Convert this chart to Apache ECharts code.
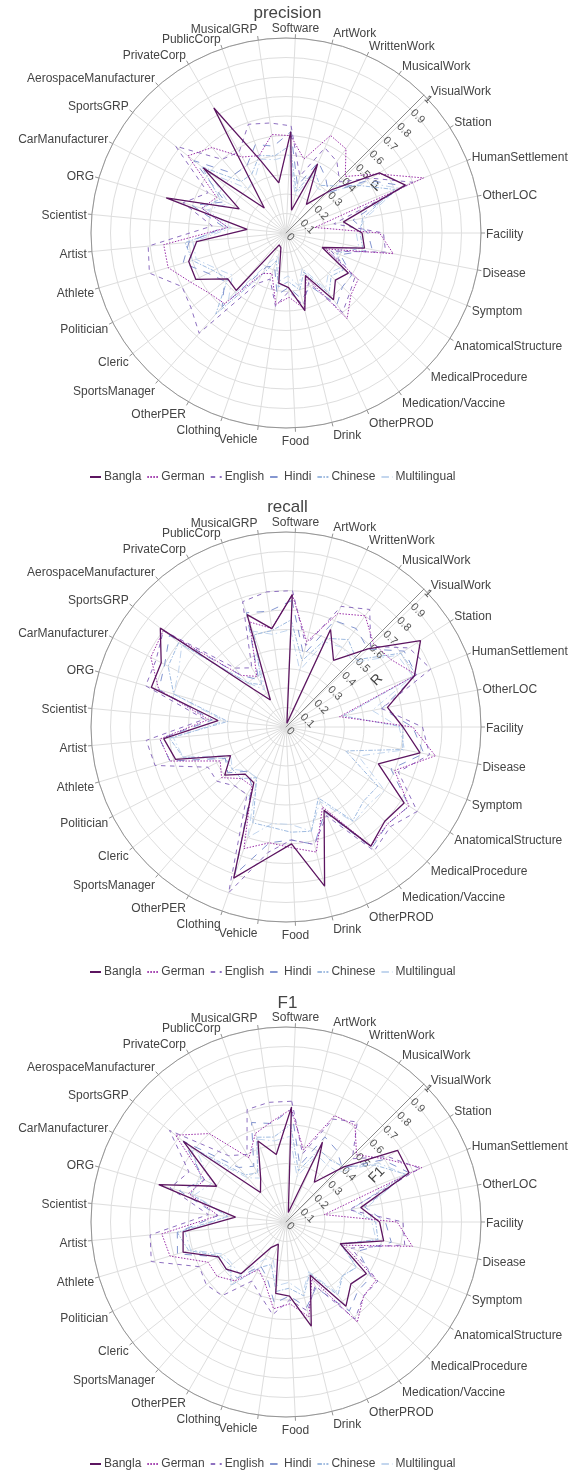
<!DOCTYPE html>
<html><head><meta charset="utf-8">
<script src="https://cdn.jsdelivr.net/npm/echarts@6/dist/echarts.min.js"></script>
<style>html,body{margin:0;padding:0;background:#fff}#c{width:575px;height:1473px}</style>
</head><body><div id="c"></div>
<script>
const categories = ['Software','ArtWork','WrittenWork','MusicalWork','VisualWork','Station','HumanSettlement','OtherLOC','Facility','Disease','Symptom','AnatomicalStructure','MedicalProcedure','Medication/Vaccine','OtherPROD','Drink','Food','Vehicle','Clothing','OtherPER','SportsManager','Cleric','Politician','Athlete','Artist','Scientist','ORG','CarManufacturer','SportsGRP','AerospaceManufacturer','PrivateCorp','PublicCorp','MusicalGRP'];
const languages = ['Bangla','German','English','Hindi','Chinese','Multilingual'];
const radialTicks = ['0','0.1','0.2','0.3','0.4','0.5','0.6','0.7','0.8','0.9','1'];
const chartTitles = ['precision','recall','F1'];
const axisTitles = ['P','R','F1'];

// precision
const pBangla  = [0.52,0.12,0.39,0.18,0.32,0.57,0.66,0.30,0.39,0.41,0.20,0.38,0.35,0.42,0.24,0.41,0.28,0.26,0.08,0.07,0.39,0.38,0.52,0.52,0.46,0.20,0.64,0.27,0.54,0.17,0.74,0.39,0.26];
const pGerman  = [0.50,0.39,0.55,0.53,0.42,0.56,0.76,0.15,0.48,0.56,0.22,0.44,0.46,0.54,0.25,0.40,0.33,0.37,0.22,0.24,0.48,0.50,0.55,0.63,0.63,0.30,0.45,0.40,0.64,0.58,0.45,0.42,0.51];
const pEnglish = [0.55,0.30,0.48,0.45,0.38,0.52,0.70,0.25,0.50,0.52,0.25,0.42,0.45,0.50,0.28,0.38,0.30,0.38,0.25,0.30,0.68,0.62,0.60,0.73,0.71,0.38,0.55,0.45,0.72,0.50,0.48,0.59,0.57];
const pHindi   = [0.52,0.25,0.40,0.35,0.30,0.50,0.65,0.35,0.42,0.45,0.30,0.40,0.40,0.45,0.30,0.35,0.28,0.32,0.18,0.20,0.50,0.40,0.45,0.55,0.50,0.32,0.50,0.35,0.60,0.40,0.40,0.48,0.45];
const pChinese = [0.45,0.22,0.35,0.30,0.35,0.45,0.60,0.40,0.38,0.40,0.28,0.35,0.32,0.38,0.22,0.30,0.25,0.28,0.15,0.25,0.55,0.38,0.42,0.50,0.52,0.30,0.45,0.38,0.55,0.35,0.35,0.42,0.40];
const pMulti   = [0.40,0.20,0.32,0.28,0.30,0.48,0.62,0.42,0.36,0.38,0.25,0.33,0.30,0.35,0.20,0.28,0.22,0.25,0.12,0.18,0.45,0.35,0.40,0.48,0.48,0.28,0.42,0.33,0.50,0.30,0.32,0.40,0.38];
// recall
const rBangla  = [0.68,0.02,0.55,0.42,0.58,0.82,0.71,0.53,0.60,0.70,0.51,0.72,0.70,0.75,0.47,0.84,0.60,0.68,0.82,0.33,0.32,0.40,0.32,0.59,0.63,0.35,0.72,0.72,0.82,0.26,0.16,0.61,0.51];
const rGerman  = [0.68,0.45,0.64,0.70,0.62,0.64,0.72,0.28,0.65,0.78,0.60,0.75,0.72,0.75,0.45,0.66,0.62,0.60,0.66,0.35,0.35,0.42,0.38,0.62,0.65,0.40,0.68,0.78,0.80,0.35,0.30,0.57,0.51];
const rEnglish = [0.70,0.43,0.68,0.74,0.60,0.75,0.80,0.50,0.70,0.75,0.62,0.80,0.74,0.78,0.50,0.62,0.58,0.65,0.90,0.40,0.40,0.45,0.45,0.70,0.72,0.42,0.75,0.75,0.80,0.40,0.35,0.68,0.70];
const rHindi   = [0.65,0.38,0.60,0.62,0.58,0.72,0.72,0.50,0.65,0.72,0.58,0.75,0.72,0.76,0.48,0.62,0.58,0.60,0.80,0.35,0.30,0.38,0.35,0.62,0.65,0.38,0.68,0.70,0.76,0.35,0.28,0.62,0.60];
const rChinese = [0.55,0.35,0.50,0.55,0.50,0.70,0.72,0.30,0.60,0.61,0.33,0.56,0.55,0.59,0.40,0.55,0.54,0.52,0.52,0.30,0.35,0.35,0.35,0.55,0.60,0.30,0.60,0.68,0.70,0.30,0.25,0.50,0.50];
const rMulti   = [0.50,0.30,0.48,0.50,0.48,0.68,0.70,0.45,0.58,0.62,0.40,0.60,0.58,0.60,0.42,0.55,0.50,0.50,0.60,0.30,0.30,0.35,0.32,0.55,0.58,0.32,0.60,0.62,0.68,0.30,0.22,0.52,0.48];
// F1
const fBangla  = [0.59,0.05,0.45,0.25,0.41,0.68,0.68,0.39,0.48,0.51,0.30,0.49,0.46,0.53,0.30,0.55,0.38,0.37,0.12,0.15,0.35,0.39,0.39,0.55,0.53,0.26,0.68,0.40,0.67,0.20,0.26,0.44,0.35];
const fGerman  = [0.58,0.38,0.60,0.61,0.50,0.60,0.75,0.20,0.57,0.66,0.32,0.55,0.55,0.63,0.32,0.50,0.42,0.45,0.33,0.28,0.40,0.45,0.45,0.62,0.64,0.35,0.52,0.47,0.72,0.60,0.38,0.48,0.52];
const fEnglish = [0.62,0.36,0.58,0.63,0.47,0.62,0.74,0.33,0.60,0.62,0.36,0.56,0.55,0.61,0.36,0.47,0.40,0.48,0.40,0.35,0.50,0.52,0.50,0.72,0.70,0.40,0.62,0.56,0.76,0.45,0.40,0.61,0.62];
const fHindi   = [0.58,0.30,0.48,0.45,0.40,0.59,0.68,0.41,0.51,0.55,0.40,0.52,0.51,0.56,0.37,0.45,0.38,0.42,0.30,0.26,0.38,0.39,0.39,0.58,0.56,0.35,0.57,0.47,0.67,0.37,0.33,0.54,0.51];
const fChinese = [0.50,0.27,0.41,0.39,0.41,0.54,0.66,0.34,0.46,0.48,0.30,0.43,0.40,0.46,0.29,0.39,0.34,0.36,0.23,0.27,0.43,0.36,0.38,0.52,0.56,0.30,0.51,0.49,0.62,0.32,0.29,0.46,0.44];
const fMulti   = [0.44,0.24,0.38,0.36,0.37,0.56,0.66,0.43,0.44,0.47,0.31,0.43,0.40,0.44,0.28,0.37,0.31,0.33,0.20,0.22,0.36,0.35,0.36,0.51,0.52,0.30,0.49,0.43,0.58,0.30,0.26,0.45,0.42];

const metricData = [
  [pBangla,pGerman,pEnglish,pHindi,pChinese,pMulti],
  [rBangla,rGerman,rEnglish,rHindi,rChinese,rMulti],
  [fBangla,fGerman,fEnglish,fHindi,fChinese,fMulti]
];
const styles = [
  {color:'#5c1560', width:1.3, type:'solid'},
  {color:'#9a2fa8', width:1, type:[1.5,1.5]},
  {color:'#8e70c0', width:1, type:[4.5,4.5]},
  {color:'#8496d0', width:1, type:[7.5,7.5]},
  {color:'#9fbbe0', width:1, type:[4.5,1.5,1.5,1.5]},
  {color:'#c3d6ee', width:1, type:[7.5,3,1.5,3]}
];
const FONT = '"Liberation Sans", Arial, sans-serif';
const centersY = [233, 727, 1222];
const titleTop = [5, 499, 995];
const legendTop = [471, 966, 1458];
const N = categories.length;
const R = 195, CX = 286, START = 90 - 360 / N * 0.25, MARGIN = 5;

// per-label rich styles so that anchoring mimics the reference placement
const mctx = document.createElement('canvas').getContext('2d');
mctx.font = '12px "Liberation Sans", Arial, sans-serif';
const catRich = {};
const catText = [];
categories.forEach((name, i) => {
  const th = (START - i * 360 / N) * Math.PI / 180;
  const cos = Math.cos(th), sin = Math.sin(th);
  const px = cos * (R + MARGIN), py = -sin * (R + MARGIN);
  const ha = Math.abs(px) / R < 0.3 ? 'center' : (px > 0 ? 'left' : 'right');
  const va = Math.abs(py) / R < 0.3 ? 'middle' : (py > 0 ? 'top' : 'bottom');
  const W = mctx.measureText(name).width;
  const st = {fontSize:12, color:'#444', fontFamily:FONT, padding:[0,0,0,0]};
  if (ha === 'center' && Math.abs(cos) >= 0.1) st.padding = cos > 0 ? [0,0,0,W] : [0,W,0,0];
  const want = -sin * 7 + 2;
  let txt = '{c' + i + '|' + name + '}';
  if (va === 'bottom') st.lineHeight = Math.max(0.5, -2 * want);
  else if (va === 'top') st.lineHeight = Math.max(0.5, 2 * want);
  else {
    st.lineHeight = 14;
    catRich['s' + i] = {fontSize:1, lineHeight:Math.abs(2 * want)};
    txt = want > 0 ? '{s' + i + '| }\n' + txt : txt + '\n{s' + i + '| }';
  }
  catRich['c' + i] = st;
  catText.push(txt);
});

const option = {animation:false, backgroundColor:'#fff', textStyle:{fontFamily:FONT},
  title:[], legend:[], polar:[], angleAxis:[], radiusAxis:[], series:[]};

for (let k = 0; k < 3; k++) {
  option.title.push({text:chartTitles[k], left:'center', top:titleTop[k], padding:0,
    textStyle:{fontSize:17, fontWeight:'normal', color:'#444', fontFamily:FONT}});
  option.legend.push({data:languages, left:89, top:legendTop[k], orient:'horizontal', padding:0,
    itemWidth:11, itemHeight:14, itemGap:5, itemStyle:{opacity:0},
    textStyle:{fontSize:12, color:'#444', fontFamily:FONT, padding:[0,0,0,-2]}});
  option.polar.push({center:[CX, centersY[k]], radius:R});
  option.polar.push({center:[CX, centersY[k]], radius:R});
  option.angleAxis.push({polarIndex:2*k, type:'value', min:0, max:N, interval:1,
    startAngle:START, clockwise:true,
    axisLine:{show:true, lineStyle:{color:'#959595', width:1}},
    axisTick:{show:true, length:4, lineStyle:{color:'#959595'}},
    axisLabel:{formatter:v => (v < N ? catText[v] : ''), rich:catRich, color:'#444', fontSize:12, margin:MARGIN, fontFamily:FONT},
    splitLine:{show:true, lineStyle:{color:'#dedede', width:1}}});
  option.angleAxis.push({polarIndex:2*k+1, type:'value', min:0, max:360, startAngle:45, clockwise:true,
    axisLine:{show:false}, axisTick:{show:false}, axisLabel:{show:false}, splitLine:{show:false}});
  option.radiusAxis.push({polarIndex:2*k, type:'value', min:0, max:1, interval:0.1,
    axisLine:{show:false}, axisTick:{show:false}, axisLabel:{show:false},
    splitLine:{show:true, lineStyle:{color:'#dedede', width:1}}});
  option.radiusAxis.push({polarIndex:2*k+1, type:'value', min:0, max:1, interval:0.1,
    axisLine:{show:true, lineStyle:{color:'#8a8a8a', width:1}}, axisTick:{show:false},
    axisLabel:{show:true, rotate:-45, margin:-22,
      formatter:(v) => '{t|' + radialTicks[Math.round(v * 10)] + '}',
      rich:{t:{width:19, align:'left', fontSize:11, color:'#555', fontFamily:FONT}}},
    splitLine:{show:false},
    name:axisTitles[k], nameLocation:'middle', nameGap:24,
    nameTextStyle:{fontSize:14, color:'#444', fontFamily:FONT}});
  metricData[k].forEach((vals, j) => {
    const pts = vals.map((v, i) => [v, i]);
    pts.push([vals[0], N]);
    option.series.push({type:'line', name:languages[j], coordinateSystem:'polar', polarIndex:2*k,
      data:pts, symbol:'none', smooth:false, z:10 - j,
      lineStyle:{color:styles[j].color, width:styles[j].width, type:styles[j].type},
      itemStyle:{color:styles[j].color}});
  });
}
const chart = echarts.init(document.getElementById('c'), null, {renderer:'canvas'});
chart.setOption(option);
</script></body></html>
